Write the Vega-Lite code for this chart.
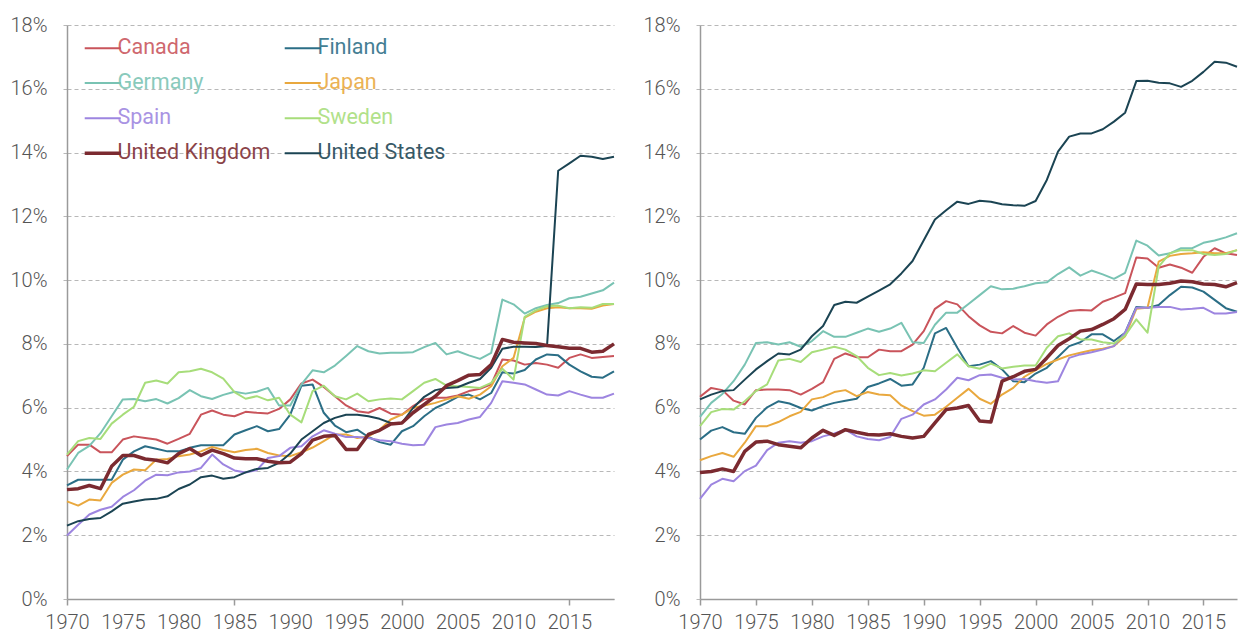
{
"$schema": "https://vega.github.io/schema/vega-lite/v6.json",
"background": "white",
"padding": {"left": 10, "top": 15, "right": 0, "bottom": 0},
"bounds": "flush",
"spacing": 86,
"config": {
  "view": {"stroke": null},
  "font": "Roboto",
  "axis": {"labelFont": "Roboto", "labelFontSize": 20, "labelFontWeight": 300, "labelColor": "#555555", "title": null, "domainColor": "#9a9a9a", "domainWidth": 1.5}
},
"resolve": {"legend": {"color": "independent"}},
"datasets": {
"left": [
{"c":"Canada","y":1970,"v":4.48},{"c":"Canada","y":1971,"v":4.84},{"c":"Canada","y":1972,"v":4.84},{"c":"Canada","y":1973,"v":4.6},{"c":"Canada","y":1974,"v":4.6},{"c":"Canada","y":1975,"v":5.0},{"c":"Canada","y":1976,"v":5.1},{"c":"Canada","y":1977,"v":5.05},{"c":"Canada","y":1978,"v":5.0},{"c":"Canada","y":1979,"v":4.87},
{"c":"Canada","y":1980,"v":5.02},{"c":"Canada","y":1981,"v":5.18},{"c":"Canada","y":1982,"v":5.78},{"c":"Canada","y":1983,"v":5.91},{"c":"Canada","y":1984,"v":5.78},{"c":"Canada","y":1985,"v":5.73},{"c":"Canada","y":1986,"v":5.87},{"c":"Canada","y":1987,"v":5.84},{"c":"Canada","y":1988,"v":5.82},{"c":"Canada","y":1989,"v":5.96},
{"c":"Canada","y":1990,"v":6.26},{"c":"Canada","y":1991,"v":6.76},{"c":"Canada","y":1992,"v":6.88},{"c":"Canada","y":1993,"v":6.65},{"c":"Canada","y":1994,"v":6.36},{"c":"Canada","y":1995,"v":6.07},{"c":"Canada","y":1996,"v":5.89},{"c":"Canada","y":1997,"v":5.84},{"c":"Canada","y":1998,"v":5.99},{"c":"Canada","y":1999,"v":5.81},
{"c":"Canada","y":2000,"v":5.78},{"c":"Canada","y":2001,"v":6.05},{"c":"Canada","y":2002,"v":6.26},{"c":"Canada","y":2003,"v":6.31},{"c":"Canada","y":2004,"v":6.31},{"c":"Canada","y":2005,"v":6.38},{"c":"Canada","y":2006,"v":6.52},{"c":"Canada","y":2007,"v":6.59},{"c":"Canada","y":2008,"v":6.73},{"c":"Canada","y":2009,"v":7.51},
{"c":"Canada","y":2010,"v":7.48},{"c":"Canada","y":2011,"v":7.35},{"c":"Canada","y":2012,"v":7.4},{"c":"Canada","y":2013,"v":7.35},{"c":"Canada","y":2014,"v":7.25},{"c":"Canada","y":2015,"v":7.56},{"c":"Canada","y":2016,"v":7.67},{"c":"Canada","y":2017,"v":7.56},{"c":"Canada","y":2018,"v":7.59},{"c":"Canada","y":2019,"v":7.62},

{"c":"Finland","y":1970,"v":3.56},{"c":"Finland","y":1971,"v":3.74},{"c":"Finland","y":1972,"v":3.74},{"c":"Finland","y":1973,"v":3.74},{"c":"Finland","y":1974,"v":3.74},{"c":"Finland","y":1975,"v":4.37},{"c":"Finland","y":1976,"v":4.63},{"c":"Finland","y":1977,"v":4.79},{"c":"Finland","y":1978,"v":4.71},{"c":"Finland","y":1979,"v":4.63},
{"c":"Finland","y":1980,"v":4.63},{"c":"Finland","y":1981,"v":4.74},{"c":"Finland","y":1982,"v":4.82},{"c":"Finland","y":1983,"v":4.82},{"c":"Finland","y":1984,"v":4.82},{"c":"Finland","y":1985,"v":5.16},{"c":"Finland","y":1986,"v":5.29},{"c":"Finland","y":1987,"v":5.42},{"c":"Finland","y":1988,"v":5.26},{"c":"Finland","y":1989,"v":5.33},
{"c":"Finland","y":1990,"v":5.78},{"c":"Finland","y":1991,"v":6.69},{"c":"Finland","y":1992,"v":6.73},{"c":"Finland","y":1993,"v":5.84},{"c":"Finland","y":1994,"v":5.44},{"c":"Finland","y":1995,"v":5.23},{"c":"Finland","y":1996,"v":5.31},{"c":"Finland","y":1997,"v":5.08},{"c":"Finland","y":1998,"v":4.92},{"c":"Finland","y":1999,"v":4.84},
{"c":"Finland","y":2000,"v":5.26},{"c":"Finland","y":2001,"v":5.42},{"c":"Finland","y":2002,"v":5.73},{"c":"Finland","y":2003,"v":5.99},{"c":"Finland","y":2004,"v":6.15},{"c":"Finland","y":2005,"v":6.34},{"c":"Finland","y":2006,"v":6.41},{"c":"Finland","y":2007,"v":6.26},{"c":"Finland","y":2008,"v":6.46},{"c":"Finland","y":2009,"v":7.11},
{"c":"Finland","y":2010,"v":7.07},{"c":"Finland","y":2011,"v":7.18},{"c":"Finland","y":2012,"v":7.51},{"c":"Finland","y":2013,"v":7.67},{"c":"Finland","y":2014,"v":7.64},{"c":"Finland","y":2015,"v":7.35},{"c":"Finland","y":2016,"v":7.14},{"c":"Finland","y":2017,"v":6.97},{"c":"Finland","y":2018,"v":6.94},{"c":"Finland","y":2019,"v":7.14},

{"c":"Germany","y":1970,"v":4.06},{"c":"Germany","y":1971,"v":4.58},{"c":"Germany","y":1972,"v":4.8},{"c":"Germany","y":1973,"v":5.2},{"c":"Germany","y":1974,"v":5.73},{"c":"Germany","y":1975,"v":6.26},{"c":"Germany","y":1976,"v":6.27},{"c":"Germany","y":1977,"v":6.2},{"c":"Germany","y":1978,"v":6.27},{"c":"Germany","y":1979,"v":6.13},
{"c":"Germany","y":1980,"v":6.3},{"c":"Germany","y":1981,"v":6.55},{"c":"Germany","y":1982,"v":6.36},{"c":"Germany","y":1983,"v":6.27},{"c":"Germany","y":1984,"v":6.4},{"c":"Germany","y":1985,"v":6.5},{"c":"Germany","y":1986,"v":6.44},{"c":"Germany","y":1987,"v":6.5},{"c":"Germany","y":1988,"v":6.62},{"c":"Germany","y":1989,"v":6.07},
{"c":"Germany","y":1990,"v":6.07},{"c":"Germany","y":1991,"v":6.73},{"c":"Germany","y":1992,"v":7.17},{"c":"Germany","y":1993,"v":7.11},{"c":"Germany","y":1994,"v":7.32},{"c":"Germany","y":1995,"v":7.62},{"c":"Germany","y":1996,"v":7.93},{"c":"Germany","y":1997,"v":7.77},{"c":"Germany","y":1998,"v":7.7},{"c":"Germany","y":1999,"v":7.72},
{"c":"Germany","y":2000,"v":7.72},{"c":"Germany","y":2001,"v":7.74},{"c":"Germany","y":2002,"v":7.9},{"c":"Germany","y":2003,"v":8.03},{"c":"Germany","y":2004,"v":7.67},{"c":"Germany","y":2005,"v":7.77},{"c":"Germany","y":2006,"v":7.64},{"c":"Germany","y":2007,"v":7.53},{"c":"Germany","y":2008,"v":7.72},{"c":"Germany","y":2009,"v":9.39},
{"c":"Germany","y":2010,"v":9.24},{"c":"Germany","y":2011,"v":8.95},{"c":"Germany","y":2012,"v":9.12},{"c":"Germany","y":2013,"v":9.22},{"c":"Germany","y":2014,"v":9.28},{"c":"Germany","y":2015,"v":9.43},{"c":"Germany","y":2016,"v":9.48},{"c":"Germany","y":2017,"v":9.58},{"c":"Germany","y":2018,"v":9.68},{"c":"Germany","y":2019,"v":9.92},

{"c":"Japan","y":1970,"v":3.06},{"c":"Japan","y":1971,"v":2.93},{"c":"Japan","y":1972,"v":3.12},{"c":"Japan","y":1973,"v":3.09},{"c":"Japan","y":1974,"v":3.64},{"c":"Japan","y":1975,"v":3.9},{"c":"Japan","y":1976,"v":4.06},{"c":"Japan","y":1977,"v":4.04},{"c":"Japan","y":1978,"v":4.37},{"c":"Japan","y":1979,"v":4.39},
{"c":"Japan","y":1980,"v":4.48},{"c":"Japan","y":1981,"v":4.53},{"c":"Japan","y":1982,"v":4.63},{"c":"Japan","y":1983,"v":4.77},{"c":"Japan","y":1984,"v":4.67},{"c":"Japan","y":1985,"v":4.6},{"c":"Japan","y":1986,"v":4.67},{"c":"Japan","y":1987,"v":4.71},{"c":"Japan","y":1988,"v":4.58},{"c":"Japan","y":1989,"v":4.5},
{"c":"Japan","y":1990,"v":4.48},{"c":"Japan","y":1991,"v":4.6},{"c":"Japan","y":1992,"v":4.75},{"c":"Japan","y":1993,"v":4.95},{"c":"Japan","y":1994,"v":5.16},{"c":"Japan","y":1995,"v":5.16},{"c":"Japan","y":1996,"v":5.05},{"c":"Japan","y":1997,"v":5.1},{"c":"Japan","y":1998,"v":5.31},{"c":"Japan","y":1999,"v":5.63},
{"c":"Japan","y":2000,"v":5.78},{"c":"Japan","y":2001,"v":5.99},{"c":"Japan","y":2002,"v":6.07},{"c":"Japan","y":2003,"v":6.15},{"c":"Japan","y":2004,"v":6.26},{"c":"Japan","y":2005,"v":6.36},{"c":"Japan","y":2006,"v":6.28},{"c":"Japan","y":2007,"v":6.41},{"c":"Japan","y":2008,"v":6.67},{"c":"Japan","y":2009,"v":7.3},
{"c":"Japan","y":2010,"v":7.56},{"c":"Japan","y":2011,"v":8.82},{"c":"Japan","y":2012,"v":9.01},{"c":"Japan","y":2013,"v":9.12},{"c":"Japan","y":2014,"v":9.15},{"c":"Japan","y":2015,"v":9.12},{"c":"Japan","y":2016,"v":9.12},{"c":"Japan","y":2017,"v":9.1},{"c":"Japan","y":2018,"v":9.2},{"c":"Japan","y":2019,"v":9.25},

{"c":"Spain","y":1970,"v":1.99},{"c":"Spain","y":1971,"v":2.33},{"c":"Spain","y":1972,"v":2.65},{"c":"Spain","y":1973,"v":2.8},{"c":"Spain","y":1974,"v":2.89},{"c":"Spain","y":1975,"v":3.2},{"c":"Spain","y":1976,"v":3.41},{"c":"Spain","y":1977,"v":3.71},{"c":"Spain","y":1978,"v":3.9},{"c":"Spain","y":1979,"v":3.88},
{"c":"Spain","y":1980,"v":3.97},{"c":"Spain","y":1981,"v":4.0},{"c":"Spain","y":1982,"v":4.11},{"c":"Spain","y":1983,"v":4.53},{"c":"Spain","y":1984,"v":4.22},{"c":"Spain","y":1985,"v":4.03},{"c":"Spain","y":1986,"v":3.97},{"c":"Spain","y":1987,"v":4.04},{"c":"Spain","y":1988,"v":4.42},{"c":"Spain","y":1989,"v":4.48},
{"c":"Spain","y":1990,"v":4.74},{"c":"Spain","y":1991,"v":4.79},{"c":"Spain","y":1992,"v":5.1},{"c":"Spain","y":1993,"v":5.29},{"c":"Spain","y":1994,"v":5.18},{"c":"Spain","y":1995,"v":5.08},{"c":"Spain","y":1996,"v":5.08},{"c":"Spain","y":1997,"v":5.05},{"c":"Spain","y":1998,"v":4.98},{"c":"Spain","y":1999,"v":4.95},
{"c":"Spain","y":2000,"v":4.87},{"c":"Spain","y":2001,"v":4.82},{"c":"Spain","y":2002,"v":4.84},{"c":"Spain","y":2003,"v":5.39},{"c":"Spain","y":2004,"v":5.47},{"c":"Spain","y":2005,"v":5.52},{"c":"Spain","y":2006,"v":5.63},{"c":"Spain","y":2007,"v":5.71},{"c":"Spain","y":2008,"v":6.15},{"c":"Spain","y":2009,"v":6.83},
{"c":"Spain","y":2010,"v":6.78},{"c":"Spain","y":2011,"v":6.73},{"c":"Spain","y":2012,"v":6.57},{"c":"Spain","y":2013,"v":6.41},{"c":"Spain","y":2014,"v":6.38},{"c":"Spain","y":2015,"v":6.52},{"c":"Spain","y":2016,"v":6.41},{"c":"Spain","y":2017,"v":6.31},{"c":"Spain","y":2018,"v":6.31},{"c":"Spain","y":2019,"v":6.44},

{"c":"Sweden","y":1970,"v":4.53},{"c":"Sweden","y":1971,"v":4.95},{"c":"Sweden","y":1972,"v":5.05},{"c":"Sweden","y":1973,"v":5.02},{"c":"Sweden","y":1974,"v":5.5},{"c":"Sweden","y":1975,"v":5.78},{"c":"Sweden","y":1976,"v":6.03},{"c":"Sweden","y":1977,"v":6.78},{"c":"Sweden","y":1978,"v":6.85},{"c":"Sweden","y":1979,"v":6.76},
{"c":"Sweden","y":1980,"v":7.11},{"c":"Sweden","y":1981,"v":7.14},{"c":"Sweden","y":1982,"v":7.22},{"c":"Sweden","y":1983,"v":7.11},{"c":"Sweden","y":1984,"v":6.91},{"c":"Sweden","y":1985,"v":6.49},{"c":"Sweden","y":1986,"v":6.28},{"c":"Sweden","y":1987,"v":6.36},{"c":"Sweden","y":1988,"v":6.23},{"c":"Sweden","y":1989,"v":6.31},
{"c":"Sweden","y":1990,"v":5.78},{"c":"Sweden","y":1991,"v":5.54},{"c":"Sweden","y":1992,"v":6.52},{"c":"Sweden","y":1993,"v":6.69},{"c":"Sweden","y":1994,"v":6.36},{"c":"Sweden","y":1995,"v":6.26},{"c":"Sweden","y":1996,"v":6.44},{"c":"Sweden","y":1997,"v":6.2},{"c":"Sweden","y":1998,"v":6.26},{"c":"Sweden","y":1999,"v":6.29},
{"c":"Sweden","y":2000,"v":6.26},{"c":"Sweden","y":2001,"v":6.52},{"c":"Sweden","y":2002,"v":6.78},{"c":"Sweden","y":2003,"v":6.9},{"c":"Sweden","y":2004,"v":6.69},{"c":"Sweden","y":2005,"v":6.67},{"c":"Sweden","y":2006,"v":6.65},{"c":"Sweden","y":2007,"v":6.62},{"c":"Sweden","y":2008,"v":6.78},{"c":"Sweden","y":2009,"v":7.22},
{"c":"Sweden","y":2010,"v":6.88},{"c":"Sweden","y":2011,"v":8.85},{"c":"Sweden","y":2012,"v":9.05},{"c":"Sweden","y":2013,"v":9.18},{"c":"Sweden","y":2014,"v":9.2},{"c":"Sweden","y":2015,"v":9.12},{"c":"Sweden","y":2016,"v":9.15},{"c":"Sweden","y":2017,"v":9.13},{"c":"Sweden","y":2018,"v":9.25},{"c":"Sweden","y":2019,"v":9.25},

{"c":"United States","y":1970,"v":2.3},{"c":"United States","y":1971,"v":2.44},{"c":"United States","y":1972,"v":2.51},{"c":"United States","y":1973,"v":2.54},{"c":"United States","y":1974,"v":2.75},{"c":"United States","y":1975,"v":2.99},{"c":"United States","y":1976,"v":3.06},{"c":"United States","y":1977,"v":3.12},{"c":"United States","y":1978,"v":3.14},{"c":"United States","y":1979,"v":3.22},
{"c":"United States","y":1980,"v":3.45},{"c":"United States","y":1981,"v":3.59},{"c":"United States","y":1982,"v":3.82},{"c":"United States","y":1983,"v":3.87},{"c":"United States","y":1984,"v":3.77},{"c":"United States","y":1985,"v":3.82},{"c":"United States","y":1986,"v":3.97},{"c":"United States","y":1987,"v":4.08},{"c":"United States","y":1988,"v":4.11},{"c":"United States","y":1989,"v":4.27},
{"c":"United States","y":1990,"v":4.56},{"c":"United States","y":1991,"v":5.0},{"c":"United States","y":1992,"v":5.26},{"c":"United States","y":1993,"v":5.52},{"c":"United States","y":1994,"v":5.68},{"c":"United States","y":1995,"v":5.78},{"c":"United States","y":1996,"v":5.78},{"c":"United States","y":1997,"v":5.73},{"c":"United States","y":1998,"v":5.65},{"c":"United States","y":1999,"v":5.52},
{"c":"United States","y":2000,"v":5.52},{"c":"United States","y":2001,"v":5.99},{"c":"United States","y":2002,"v":6.34},{"c":"United States","y":2003,"v":6.55},{"c":"United States","y":2004,"v":6.62},{"c":"United States","y":2005,"v":6.64},{"c":"United States","y":2006,"v":6.78},{"c":"United States","y":2007,"v":6.9},{"c":"United States","y":2008,"v":7.25},{"c":"United States","y":2009,"v":7.85},
{"c":"United States","y":2010,"v":7.91},{"c":"United States","y":2011,"v":7.91},{"c":"United States","y":2012,"v":7.9},{"c":"United States","y":2013,"v":7.93},{"c":"United States","y":2014,"v":13.43},{"c":"United States","y":2015,"v":13.66},{"c":"United States","y":2016,"v":13.9},{"c":"United States","y":2017,"v":13.87},{"c":"United States","y":2018,"v":13.8},{"c":"United States","y":2019,"v":13.87},

{"c":"United Kingdom","y":1970,"v":3.43},{"c":"United Kingdom","y":1971,"v":3.46},{"c":"United Kingdom","y":1972,"v":3.56},{"c":"United Kingdom","y":1973,"v":3.46},{"c":"United Kingdom","y":1974,"v":4.16},{"c":"United Kingdom","y":1975,"v":4.5},{"c":"United Kingdom","y":1976,"v":4.5},{"c":"United Kingdom","y":1977,"v":4.39},{"c":"United Kingdom","y":1978,"v":4.35},{"c":"United Kingdom","y":1979,"v":4.27},
{"c":"United Kingdom","y":1980,"v":4.56},{"c":"United Kingdom","y":1981,"v":4.72},{"c":"United Kingdom","y":1982,"v":4.5},{"c":"United Kingdom","y":1983,"v":4.67},{"c":"United Kingdom","y":1984,"v":4.56},{"c":"United Kingdom","y":1985,"v":4.42},{"c":"United Kingdom","y":1986,"v":4.4},{"c":"United Kingdom","y":1987,"v":4.4},{"c":"United Kingdom","y":1988,"v":4.32},{"c":"United Kingdom","y":1989,"v":4.27},
{"c":"United Kingdom","y":1990,"v":4.29},{"c":"United Kingdom","y":1991,"v":4.56},{"c":"United Kingdom","y":1992,"v":4.98},{"c":"United Kingdom","y":1993,"v":5.1},{"c":"United Kingdom","y":1994,"v":5.13},{"c":"United Kingdom","y":1995,"v":4.69},{"c":"United Kingdom","y":1996,"v":4.69},{"c":"United Kingdom","y":1997,"v":5.16},{"c":"United Kingdom","y":1998,"v":5.29},{"c":"United Kingdom","y":1999,"v":5.49},
{"c":"United Kingdom","y":2000,"v":5.52},{"c":"United Kingdom","y":2001,"v":5.84},{"c":"United Kingdom","y":2002,"v":6.1},{"c":"United Kingdom","y":2003,"v":6.36},{"c":"United Kingdom","y":2004,"v":6.69},{"c":"United Kingdom","y":2005,"v":6.85},{"c":"United Kingdom","y":2006,"v":7.02},{"c":"United Kingdom","y":2007,"v":7.04},{"c":"United Kingdom","y":2008,"v":7.35},{"c":"United Kingdom","y":2009,"v":8.14},
{"c":"United Kingdom","y":2010,"v":8.05},{"c":"United Kingdom","y":2011,"v":8.03},{"c":"United Kingdom","y":2012,"v":8.01},{"c":"United Kingdom","y":2013,"v":7.95},{"c":"United Kingdom","y":2014,"v":7.91},{"c":"United Kingdom","y":2015,"v":7.86},{"c":"United Kingdom","y":2016,"v":7.86},{"c":"United Kingdom","y":2017,"v":7.74},{"c":"United Kingdom","y":2018,"v":7.77},{"c":"United Kingdom","y":2019,"v":8.0}
],
"right": [
{"c":"Canada","y":1970,"v":6.34},{"c":"Canada","y":1971,"v":6.62},{"c":"Canada","y":1972,"v":6.55},{"c":"Canada","y":1973,"v":6.22},{"c":"Canada","y":1974,"v":6.1},{"c":"Canada","y":1975,"v":6.55},{"c":"Canada","y":1976,"v":6.57},{"c":"Canada","y":1977,"v":6.57},{"c":"Canada","y":1978,"v":6.55},{"c":"Canada","y":1979,"v":6.41},
{"c":"Canada","y":1980,"v":6.59},{"c":"Canada","y":1981,"v":6.8},{"c":"Canada","y":1982,"v":7.53},{"c":"Canada","y":1983,"v":7.7},{"c":"Canada","y":1984,"v":7.58},{"c":"Canada","y":1985,"v":7.58},{"c":"Canada","y":1986,"v":7.82},{"c":"Canada","y":1987,"v":7.77},{"c":"Canada","y":1988,"v":7.77},{"c":"Canada","y":1989,"v":7.98},
{"c":"Canada","y":1990,"v":8.4},{"c":"Canada","y":1991,"v":9.1},{"c":"Canada","y":1992,"v":9.34},{"c":"Canada","y":1993,"v":9.24},{"c":"Canada","y":1994,"v":8.87},{"c":"Canada","y":1995,"v":8.58},{"c":"Canada","y":1996,"v":8.38},{"c":"Canada","y":1997,"v":8.33},{"c":"Canada","y":1998,"v":8.56},{"c":"Canada","y":1999,"v":8.35},
{"c":"Canada","y":2000,"v":8.26},{"c":"Canada","y":2001,"v":8.61},{"c":"Canada","y":2002,"v":8.85},{"c":"Canada","y":2003,"v":9.03},{"c":"Canada","y":2004,"v":9.06},{"c":"Canada","y":2005,"v":9.05},{"c":"Canada","y":2006,"v":9.32},{"c":"Canada","y":2007,"v":9.45},{"c":"Canada","y":2008,"v":9.59},{"c":"Canada","y":2009,"v":10.71},
{"c":"Canada","y":2010,"v":10.68},{"c":"Canada","y":2011,"v":10.39},{"c":"Canada","y":2012,"v":10.49},{"c":"Canada","y":2013,"v":10.39},{"c":"Canada","y":2014,"v":10.23},{"c":"Canada","y":2015,"v":10.73},{"c":"Canada","y":2016,"v":11.0},{"c":"Canada","y":2017,"v":10.84},{"c":"Canada","y":2018,"v":10.79},

{"c":"Finland","y":1970,"v":5.0},{"c":"Finland","y":1971,"v":5.28},{"c":"Finland","y":1972,"v":5.39},{"c":"Finland","y":1973,"v":5.23},{"c":"Finland","y":1974,"v":5.18},{"c":"Finland","y":1975,"v":5.68},{"c":"Finland","y":1976,"v":6.01},{"c":"Finland","y":1977,"v":6.2},{"c":"Finland","y":1978,"v":6.13},{"c":"Finland","y":1979,"v":5.99},
{"c":"Finland","y":1980,"v":5.91},{"c":"Finland","y":1981,"v":6.05},{"c":"Finland","y":1982,"v":6.15},{"c":"Finland","y":1983,"v":6.22},{"c":"Finland","y":1984,"v":6.28},{"c":"Finland","y":1985,"v":6.65},{"c":"Finland","y":1986,"v":6.76},{"c":"Finland","y":1987,"v":6.9},{"c":"Finland","y":1988,"v":6.69},{"c":"Finland","y":1989,"v":6.73},
{"c":"Finland","y":1990,"v":7.25},{"c":"Finland","y":1991,"v":8.33},{"c":"Finland","y":1992,"v":8.5},{"c":"Finland","y":1993,"v":7.88},{"c":"Finland","y":1994,"v":7.3},{"c":"Finland","y":1995,"v":7.35},{"c":"Finland","y":1996,"v":7.46},{"c":"Finland","y":1997,"v":7.2},{"c":"Finland","y":1998,"v":6.83},{"c":"Finland","y":1999,"v":6.8},
{"c":"Finland","y":2000,"v":7.07},{"c":"Finland","y":2001,"v":7.25},{"c":"Finland","y":2002,"v":7.59},{"c":"Finland","y":2003,"v":7.93},{"c":"Finland","y":2004,"v":8.05},{"c":"Finland","y":2005,"v":8.3},{"c":"Finland","y":2006,"v":8.3},{"c":"Finland","y":2007,"v":8.09},{"c":"Finland","y":2008,"v":8.35},{"c":"Finland","y":2009,"v":9.16},
{"c":"Finland","y":2010,"v":9.13},{"c":"Finland","y":2011,"v":9.22},{"c":"Finland","y":2012,"v":9.53},{"c":"Finland","y":2013,"v":9.79},{"c":"Finland","y":2014,"v":9.77},{"c":"Finland","y":2015,"v":9.64},{"c":"Finland","y":2016,"v":9.38},{"c":"Finland","y":2017,"v":9.12},{"c":"Finland","y":2018,"v":9.01},

{"c":"Germany","y":1970,"v":5.71},{"c":"Germany","y":1971,"v":6.15},{"c":"Germany","y":1972,"v":6.43},{"c":"Germany","y":1973,"v":6.83},{"c":"Germany","y":1974,"v":7.35},{"c":"Germany","y":1975,"v":8.03},{"c":"Germany","y":1976,"v":8.05},{"c":"Germany","y":1977,"v":7.98},{"c":"Germany","y":1978,"v":8.05},{"c":"Germany","y":1979,"v":7.91},
{"c":"Germany","y":1980,"v":8.09},{"c":"Germany","y":1981,"v":8.4},{"c":"Germany","y":1982,"v":8.22},{"c":"Germany","y":1983,"v":8.22},{"c":"Germany","y":1984,"v":8.35},{"c":"Germany","y":1985,"v":8.48},{"c":"Germany","y":1986,"v":8.38},{"c":"Germany","y":1987,"v":8.48},{"c":"Germany","y":1988,"v":8.66},{"c":"Germany","y":1989,"v":8.05},
{"c":"Germany","y":1990,"v":8.03},{"c":"Germany","y":1991,"v":8.6},{"c":"Germany","y":1992,"v":8.98},{"c":"Germany","y":1993,"v":8.98},{"c":"Germany","y":1994,"v":9.25},{"c":"Germany","y":1995,"v":9.53},{"c":"Germany","y":1996,"v":9.81},{"c":"Germany","y":1997,"v":9.71},{"c":"Germany","y":1998,"v":9.73},{"c":"Germany","y":1999,"v":9.81},
{"c":"Germany","y":2000,"v":9.9},{"c":"Germany","y":2001,"v":9.93},{"c":"Germany","y":2002,"v":10.19},{"c":"Germany","y":2003,"v":10.4},{"c":"Germany","y":2004,"v":10.14},{"c":"Germany","y":2005,"v":10.3},{"c":"Germany","y":2006,"v":10.18},{"c":"Germany","y":2007,"v":10.04},{"c":"Germany","y":2008,"v":10.23},{"c":"Germany","y":2009,"v":11.24},
{"c":"Germany","y":2010,"v":11.08},{"c":"Germany","y":2011,"v":10.77},{"c":"Germany","y":2012,"v":10.84},{"c":"Germany","y":2013,"v":11.0},{"c":"Germany","y":2014,"v":11.0},{"c":"Germany","y":2015,"v":11.17},{"c":"Germany","y":2016,"v":11.24},{"c":"Germany","y":2017,"v":11.34},{"c":"Germany","y":2018,"v":11.47},

{"c":"Japan","y":1970,"v":4.35},{"c":"Japan","y":1971,"v":4.48},{"c":"Japan","y":1972,"v":4.58},{"c":"Japan","y":1973,"v":4.46},{"c":"Japan","y":1974,"v":4.9},{"c":"Japan","y":1975,"v":5.42},{"c":"Japan","y":1976,"v":5.42},{"c":"Japan","y":1977,"v":5.55},{"c":"Japan","y":1978,"v":5.73},{"c":"Japan","y":1979,"v":5.87},
{"c":"Japan","y":1980,"v":6.26},{"c":"Japan","y":1981,"v":6.33},{"c":"Japan","y":1982,"v":6.49},{"c":"Japan","y":1983,"v":6.55},{"c":"Japan","y":1984,"v":6.36},{"c":"Japan","y":1985,"v":6.49},{"c":"Japan","y":1986,"v":6.41},{"c":"Japan","y":1987,"v":6.39},{"c":"Japan","y":1988,"v":6.07},{"c":"Japan","y":1989,"v":5.89},
{"c":"Japan","y":1990,"v":5.75},{"c":"Japan","y":1991,"v":5.78},{"c":"Japan","y":1992,"v":6.03},{"c":"Japan","y":1993,"v":6.31},{"c":"Japan","y":1994,"v":6.59},{"c":"Japan","y":1995,"v":6.28},{"c":"Japan","y":1996,"v":6.12},{"c":"Japan","y":1997,"v":6.41},{"c":"Japan","y":1998,"v":6.62},{"c":"Japan","y":1999,"v":6.97},
{"c":"Japan","y":2000,"v":7.18},{"c":"Japan","y":2001,"v":7.37},{"c":"Japan","y":2002,"v":7.51},{"c":"Japan","y":2003,"v":7.64},{"c":"Japan","y":2004,"v":7.72},{"c":"Japan","y":2005,"v":7.8},{"c":"Japan","y":2006,"v":7.85},{"c":"Japan","y":2007,"v":7.93},{"c":"Japan","y":2008,"v":8.24},{"c":"Japan","y":2009,"v":9.1},
{"c":"Japan","y":2010,"v":9.13},{"c":"Japan","y":2011,"v":10.58},{"c":"Japan","y":2012,"v":10.76},{"c":"Japan","y":2013,"v":10.82},{"c":"Japan","y":2014,"v":10.84},{"c":"Japan","y":2015,"v":10.87},{"c":"Japan","y":2016,"v":10.84},{"c":"Japan","y":2017,"v":10.84},{"c":"Japan","y":2018,"v":10.94},

{"c":"Spain","y":1970,"v":3.14},{"c":"Spain","y":1971,"v":3.59},{"c":"Spain","y":1972,"v":3.77},{"c":"Spain","y":1973,"v":3.69},{"c":"Spain","y":1974,"v":4.01},{"c":"Spain","y":1975,"v":4.18},{"c":"Spain","y":1976,"v":4.67},{"c":"Spain","y":1977,"v":4.9},{"c":"Spain","y":1978,"v":4.95},{"c":"Spain","y":1979,"v":4.9},
{"c":"Spain","y":1980,"v":4.95},{"c":"Spain","y":1981,"v":5.1},{"c":"Spain","y":1982,"v":5.19},{"c":"Spain","y":1983,"v":5.31},{"c":"Spain","y":1984,"v":5.1},{"c":"Spain","y":1985,"v":5.02},{"c":"Spain","y":1986,"v":4.98},{"c":"Spain","y":1987,"v":5.08},{"c":"Spain","y":1988,"v":5.65},{"c":"Spain","y":1989,"v":5.78},
{"c":"Spain","y":1990,"v":6.1},{"c":"Spain","y":1991,"v":6.26},{"c":"Spain","y":1992,"v":6.57},{"c":"Spain","y":1993,"v":6.94},{"c":"Spain","y":1994,"v":6.86},{"c":"Spain","y":1995,"v":7.02},{"c":"Spain","y":1996,"v":7.04},{"c":"Spain","y":1997,"v":6.94},{"c":"Spain","y":1998,"v":6.88},{"c":"Spain","y":1999,"v":6.9},
{"c":"Spain","y":2000,"v":6.83},{"c":"Spain","y":2001,"v":6.78},{"c":"Spain","y":2002,"v":6.83},{"c":"Spain","y":2003,"v":7.56},{"c":"Spain","y":2004,"v":7.67},{"c":"Spain","y":2005,"v":7.74},{"c":"Spain","y":2006,"v":7.82},{"c":"Spain","y":2007,"v":7.93},{"c":"Spain","y":2008,"v":8.35},{"c":"Spain","y":2009,"v":9.13},
{"c":"Spain","y":2010,"v":9.13},{"c":"Spain","y":2011,"v":9.16},{"c":"Spain","y":2012,"v":9.16},{"c":"Spain","y":2013,"v":9.08},{"c":"Spain","y":2014,"v":9.1},{"c":"Spain","y":2015,"v":9.13},{"c":"Spain","y":2016,"v":8.95},{"c":"Spain","y":2017,"v":8.95},{"c":"Spain","y":2018,"v":9.0},

{"c":"Sweden","y":1970,"v":5.42},{"c":"Sweden","y":1971,"v":5.86},{"c":"Sweden","y":1972,"v":5.96},{"c":"Sweden","y":1973,"v":5.94},{"c":"Sweden","y":1974,"v":6.2},{"c":"Sweden","y":1975,"v":6.52},{"c":"Sweden","y":1976,"v":6.73},{"c":"Sweden","y":1977,"v":7.48},{"c":"Sweden","y":1978,"v":7.53},{"c":"Sweden","y":1979,"v":7.43},
{"c":"Sweden","y":1980,"v":7.74},{"c":"Sweden","y":1981,"v":7.82},{"c":"Sweden","y":1982,"v":7.91},{"c":"Sweden","y":1983,"v":7.82},{"c":"Sweden","y":1984,"v":7.62},{"c":"Sweden","y":1985,"v":7.25},{"c":"Sweden","y":1986,"v":7.02},{"c":"Sweden","y":1987,"v":7.09},{"c":"Sweden","y":1988,"v":7.01},{"c":"Sweden","y":1989,"v":7.07},
{"c":"Sweden","y":1990,"v":7.17},{"c":"Sweden","y":1991,"v":7.14},{"c":"Sweden","y":1992,"v":7.41},{"c":"Sweden","y":1993,"v":7.67},{"c":"Sweden","y":1994,"v":7.3},{"c":"Sweden","y":1995,"v":7.22},{"c":"Sweden","y":1996,"v":7.38},{"c":"Sweden","y":1997,"v":7.23},{"c":"Sweden","y":1998,"v":7.28},{"c":"Sweden","y":1999,"v":7.32},
{"c":"Sweden","y":2000,"v":7.32},{"c":"Sweden","y":2001,"v":7.88},{"c":"Sweden","y":2002,"v":8.24},{"c":"Sweden","y":2003,"v":8.33},{"c":"Sweden","y":2004,"v":8.14},{"c":"Sweden","y":2005,"v":8.14},{"c":"Sweden","y":2006,"v":8.05},{"c":"Sweden","y":2007,"v":8.01},{"c":"Sweden","y":2008,"v":8.26},{"c":"Sweden","y":2009,"v":8.77},
{"c":"Sweden","y":2010,"v":8.35},{"c":"Sweden","y":2011,"v":10.42},{"c":"Sweden","y":2012,"v":10.84},{"c":"Sweden","y":2013,"v":10.94},{"c":"Sweden","y":2014,"v":10.94},{"c":"Sweden","y":2015,"v":10.82},{"c":"Sweden","y":2016,"v":10.79},{"c":"Sweden","y":2017,"v":10.82},{"c":"Sweden","y":2018,"v":10.94},

{"c":"United States","y":1970,"v":6.26},{"c":"United States","y":1971,"v":6.41},{"c":"United States","y":1972,"v":6.52},{"c":"United States","y":1973,"v":6.55},{"c":"United States","y":1974,"v":6.88},{"c":"United States","y":1975,"v":7.2},{"c":"United States","y":1976,"v":7.46},{"c":"United States","y":1977,"v":7.7},{"c":"United States","y":1978,"v":7.67},{"c":"United States","y":1979,"v":7.82},
{"c":"United States","y":1980,"v":8.24},{"c":"United States","y":1981,"v":8.56},{"c":"United States","y":1982,"v":9.22},{"c":"United States","y":1983,"v":9.32},{"c":"United States","y":1984,"v":9.29},{"c":"United States","y":1985,"v":9.48},{"c":"United States","y":1986,"v":9.67},{"c":"United States","y":1987,"v":9.87},{"c":"United States","y":1988,"v":10.21},{"c":"United States","y":1989,"v":10.6},
{"c":"United States","y":1990,"v":11.25},{"c":"United States","y":1991,"v":11.9},{"c":"United States","y":1992,"v":12.19},{"c":"United States","y":1993,"v":12.46},{"c":"United States","y":1994,"v":12.39},{"c":"United States","y":1995,"v":12.49},{"c":"United States","y":1996,"v":12.46},{"c":"United States","y":1997,"v":12.38},{"c":"United States","y":1998,"v":12.35},{"c":"United States","y":1999,"v":12.33},
{"c":"United States","y":2000,"v":12.48},{"c":"United States","y":2001,"v":13.14},{"c":"United States","y":2002,"v":14.03},{"c":"United States","y":2003,"v":14.5},{"c":"United States","y":2004,"v":14.6},{"c":"United States","y":2005,"v":14.6},{"c":"United States","y":2006,"v":14.73},{"c":"United States","y":2007,"v":14.97},{"c":"United States","y":2008,"v":15.25},{"c":"United States","y":2009,"v":16.24},
{"c":"United States","y":2010,"v":16.25},{"c":"United States","y":2011,"v":16.19},{"c":"United States","y":2012,"v":16.17},{"c":"United States","y":2013,"v":16.06},{"c":"United States","y":2014,"v":16.25},{"c":"United States","y":2015,"v":16.53},{"c":"United States","y":2016,"v":16.85},{"c":"United States","y":2017,"v":16.82},{"c":"United States","y":2018,"v":16.69},

{"c":"United Kingdom","y":1970,"v":3.97},{"c":"United Kingdom","y":1971,"v":4.0},{"c":"United Kingdom","y":1972,"v":4.08},{"c":"United Kingdom","y":1973,"v":4.0},{"c":"United Kingdom","y":1974,"v":4.63},{"c":"United Kingdom","y":1975,"v":4.92},{"c":"United Kingdom","y":1976,"v":4.95},{"c":"United Kingdom","y":1977,"v":4.84},{"c":"United Kingdom","y":1978,"v":4.79},{"c":"United Kingdom","y":1979,"v":4.74},
{"c":"United Kingdom","y":1980,"v":5.05},{"c":"United Kingdom","y":1981,"v":5.29},{"c":"United Kingdom","y":1982,"v":5.13},{"c":"United Kingdom","y":1983,"v":5.31},{"c":"United Kingdom","y":1984,"v":5.23},{"c":"United Kingdom","y":1985,"v":5.16},{"c":"United Kingdom","y":1986,"v":5.14},{"c":"United Kingdom","y":1987,"v":5.18},{"c":"United Kingdom","y":1988,"v":5.1},{"c":"United Kingdom","y":1989,"v":5.05},
{"c":"United Kingdom","y":1990,"v":5.1},{"c":"United Kingdom","y":1991,"v":5.52},{"c":"United Kingdom","y":1992,"v":5.94},{"c":"United Kingdom","y":1993,"v":5.99},{"c":"United Kingdom","y":1994,"v":6.07},{"c":"United Kingdom","y":1995,"v":5.58},{"c":"United Kingdom","y":1996,"v":5.55},{"c":"United Kingdom","y":1997,"v":6.83},{"c":"United Kingdom","y":1998,"v":6.97},{"c":"United Kingdom","y":1999,"v":7.14},
{"c":"United Kingdom","y":2000,"v":7.2},{"c":"United Kingdom","y":2001,"v":7.56},{"c":"United Kingdom","y":2002,"v":7.95},{"c":"United Kingdom","y":2003,"v":8.16},{"c":"United Kingdom","y":2004,"v":8.4},{"c":"United Kingdom","y":2005,"v":8.45},{"c":"United Kingdom","y":2006,"v":8.61},{"c":"United Kingdom","y":2007,"v":8.79},{"c":"United Kingdom","y":2008,"v":9.08},{"c":"United Kingdom","y":2009,"v":9.88},
{"c":"United Kingdom","y":2010,"v":9.86},{"c":"United Kingdom","y":2011,"v":9.86},{"c":"United Kingdom","y":2012,"v":9.9},{"c":"United Kingdom","y":2013,"v":9.97},{"c":"United Kingdom","y":2014,"v":9.95},{"c":"United Kingdom","y":2015,"v":9.88},{"c":"United Kingdom","y":2016,"v":9.86},{"c":"United Kingdom","y":2017,"v":9.79},{"c":"United Kingdom","y":2018,"v":9.92}
]
},
"hconcat": [
{
  "width": 547, "height": 574,
  "data": {"name": "left"},
  "mark": {"type": "line", "strokeJoin": "round"},
  "encoding": {
    "x": {"field": "y", "type": "quantitative", "scale": {"domain": [1970, 2019], "nice": false, "zero": false},
      "axis": {"values": [1970,1975,1980,1985,1990,1995,2000,2005,2010,2015], "format": "d", "grid": false, "tickColor": "#9a9a9a", "tickSize": 6, "tickWidth": 1.5, "labelPadding": 7, "labelFlush": false,
        "tickOpacity": {"condition": {"test": "(datum.value - 1970) % 15 === 0", "value": 1}, "value": 0}}},
    "y": {"field": "v", "type": "quantitative", "scale": {"domain": [0, 18], "nice": false},
      "axis": {"values": [0,2,4,6,8,10,12,14,16,18], "labelExpr": "datum.value + '%'", "grid": true, "gridDash": [4,3], "gridColor": "#b8b8b8", "tickDash": [4,3], "tickColor": "#b8b8b8", "tickSize": 6, "labelPadding": 14}},
    "color": {"field": "c", "type": "nominal",
      "scale": {"domain": ["Canada","Finland","Germany","Japan","Spain","Sweden","United Kingdom","United States"],
                "range": ["#c9545b","#2b6e86","#79c3b3","#e9a83e","#9d85e0","#a7dd7a","#7b2a30","#1b4453"]},
      "legend": {"orient": "none", "legendX": 25, "legendY": 12, "columns": 2, "title": null,
        "values": ["Canada","Germany","Spain","United Kingdom","Finland","Japan","Sweden","United States"],
        "symbolType": "stroke", "symbolSize": 1300, "symbolStrokeWidth": 2, "labelFont": "Roboto", "labelFontSize": 21.5, "labelFontWeight": 400, "labelOffset": 4, "rowPadding": 12.2, "columnPadding": 9, "labelLimit": 400,
        "encode": {"labels": {"update": {"fill": {"scale": "color", "field": "value"}, "opacity": {"value": 0.88}}},
                   "symbols": {"update": {"strokeWidth": {"signal": "datum.value === 'United Kingdom' ? 3.5 : 2"}}}}}},
    "strokeWidth": {"condition": {"test": "datum.c === 'United Kingdom'", "value": 3.5}, "value": 2}
  }
},
{
  "width": 537, "height": 574,
  "data": {"name": "right"},
  "mark": {"type": "line", "strokeJoin": "round"},
  "encoding": {
    "x": {"field": "y", "type": "quantitative", "scale": {"domain": [1970, 2018], "nice": false, "zero": false},
      "axis": {"values": [1970,1975,1980,1985,1990,1995,2000,2005,2010,2015], "format": "d", "grid": false, "tickColor": "#9a9a9a", "tickSize": 6, "tickWidth": 1.5, "labelPadding": 7, "labelFlush": false}},
    "y": {"field": "v", "type": "quantitative", "scale": {"domain": [0, 18], "nice": false},
      "axis": {"values": [0,2,4,6,8,10,12,14,16,18], "labelExpr": "datum.value + '%'", "grid": true, "gridDash": [4,3], "gridColor": "#b8b8b8", "tickDash": [4,3], "tickColor": "#b8b8b8", "tickSize": 6, "labelPadding": 14}},
    "color": {"field": "c", "type": "nominal", "legend": null},
    "strokeWidth": {"condition": {"test": "datum.c === 'United Kingdom'", "value": 3.5}, "value": 2}
  }
}
]
}
